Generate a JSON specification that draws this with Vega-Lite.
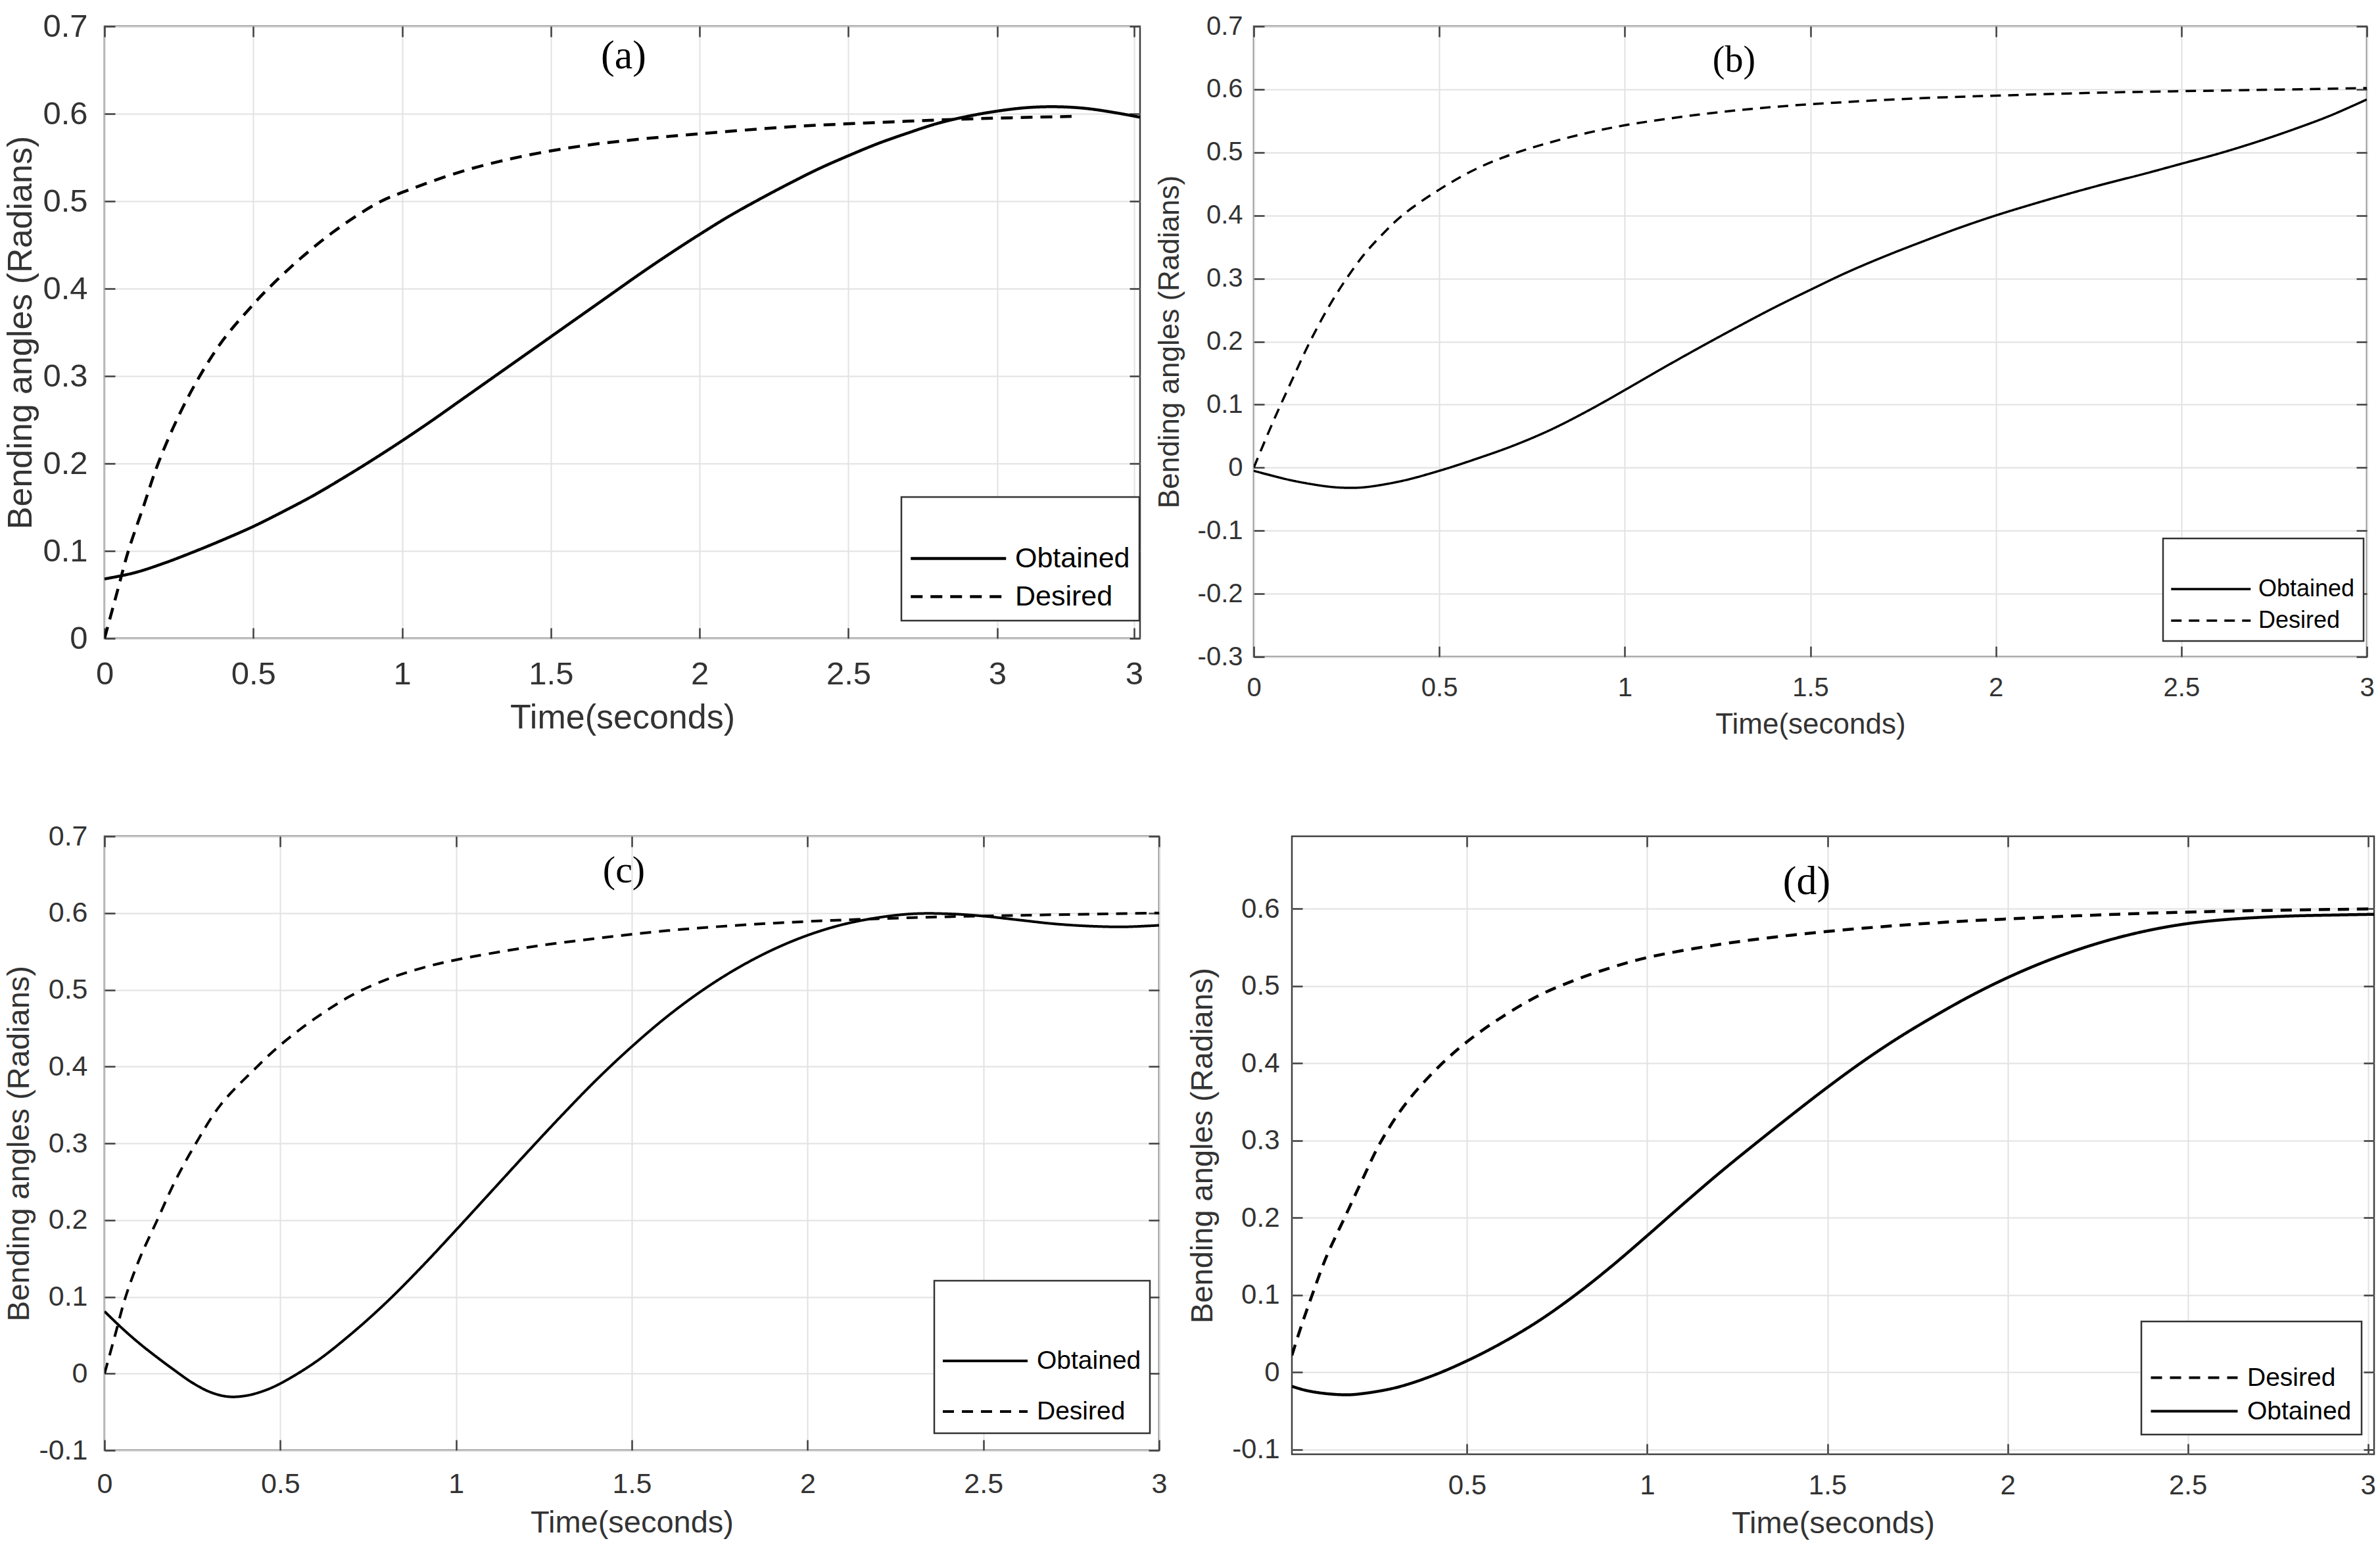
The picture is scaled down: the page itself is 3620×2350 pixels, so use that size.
{
  "$schema": "https://vega.github.io/schema/vega-lite/v6.json",
  "autosize": {"type": "pad"},
  "padding": {"left": 4, "top": 14, "right": 0, "bottom": 0},
  "background": "white",
  "datasets": {
    "a": [
      {"t": 0, "v": 0.068, "s": "Obtained"}, {"t": 0.1, "v": 0.075, "s": "Obtained"}, {"t": 0.2, "v": 0.086, "s": "Obtained"}, {"t": 0.3, "v": 0.099, "s": "Obtained"}, {"t": 0.4, "v": 0.113, "s": "Obtained"}, {"t": 0.5, "v": 0.128, "s": "Obtained"}, {"t": 0.6, "v": 0.145, "s": "Obtained"}, {"t": 0.7, "v": 0.163, "s": "Obtained"}, {"t": 0.8, "v": 0.183, "s": "Obtained"}, {"t": 0.9, "v": 0.204, "s": "Obtained"}, {"t": 1.0, "v": 0.226, "s": "Obtained"}, {"t": 1.1, "v": 0.249, "s": "Obtained"}, {"t": 1.2, "v": 0.273, "s": "Obtained"}, {"t": 1.3, "v": 0.297, "s": "Obtained"}, {"t": 1.4, "v": 0.321, "s": "Obtained"}, {"t": 1.5, "v": 0.345, "s": "Obtained"}, {"t": 1.6, "v": 0.369, "s": "Obtained"}, {"t": 1.7, "v": 0.393, "s": "Obtained"}, {"t": 1.8, "v": 0.417, "s": "Obtained"}, {"t": 1.9, "v": 0.44, "s": "Obtained"}, {"t": 2.0, "v": 0.462, "s": "Obtained"}, {"t": 2.1, "v": 0.483, "s": "Obtained"}, {"t": 2.2, "v": 0.502, "s": "Obtained"}, {"t": 2.3, "v": 0.52, "s": "Obtained"}, {"t": 2.4, "v": 0.537, "s": "Obtained"}, {"t": 2.5, "v": 0.552, "s": "Obtained"}, {"t": 2.6, "v": 0.566, "s": "Obtained"}, {"t": 2.7, "v": 0.578, "s": "Obtained"}, {"t": 2.8, "v": 0.589, "s": "Obtained"}, {"t": 2.9, "v": 0.597, "s": "Obtained"}, {"t": 3.0, "v": 0.603, "s": "Obtained"}, {"t": 3.1, "v": 0.607, "s": "Obtained"}, {"t": 3.2, "v": 0.608, "s": "Obtained"}, {"t": 3.3, "v": 0.606, "s": "Obtained"}, {"t": 3.4, "v": 0.601, "s": "Obtained"}, {"t": 3.48, "v": 0.596, "s": "Obtained"},
      {"t": 0, "v": 0, "s": "Desired"}, {"t": 0.04, "v": 0.05, "s": "Desired"}, {"t": 0.08, "v": 0.1, "s": "Desired"}, {"t": 0.13, "v": 0.15, "s": "Desired"}, {"t": 0.18, "v": 0.2, "s": "Desired"}, {"t": 0.25, "v": 0.255, "s": "Desired"}, {"t": 0.32, "v": 0.3, "s": "Desired"}, {"t": 0.4, "v": 0.342, "s": "Desired"}, {"t": 0.5, "v": 0.382, "s": "Desired"}, {"t": 0.55, "v": 0.4, "s": "Desired"}, {"t": 0.65, "v": 0.432, "s": "Desired"}, {"t": 0.75, "v": 0.46, "s": "Desired"}, {"t": 0.85, "v": 0.484, "s": "Desired"}, {"t": 0.93, "v": 0.5, "s": "Desired"}, {"t": 1.0, "v": 0.51, "s": "Desired"}, {"t": 1.2, "v": 0.534, "s": "Desired"}, {"t": 1.4, "v": 0.551, "s": "Desired"}, {"t": 1.6, "v": 0.563, "s": "Desired"}, {"t": 1.8, "v": 0.571, "s": "Desired"}, {"t": 2.0, "v": 0.577, "s": "Desired"}, {"t": 2.3, "v": 0.585, "s": "Desired"}, {"t": 2.6, "v": 0.59, "s": "Desired"}, {"t": 2.9, "v": 0.594, "s": "Desired"}, {"t": 3.25, "v": 0.597, "s": "Desired"}
    ],
    "b": [
      {"t": 0, "v": -0.005, "s": "Obtained"}, {"t": 0.1, "v": -0.02, "s": "Obtained"}, {"t": 0.2, "v": -0.03, "s": "Obtained"}, {"t": 0.25, "v": -0.032, "s": "Obtained"}, {"t": 0.3, "v": -0.031, "s": "Obtained"}, {"t": 0.4, "v": -0.021, "s": "Obtained"}, {"t": 0.5, "v": -0.005, "s": "Obtained"}, {"t": 0.6, "v": 0.014, "s": "Obtained"}, {"t": 0.7, "v": 0.035, "s": "Obtained"}, {"t": 0.8, "v": 0.06, "s": "Obtained"}, {"t": 0.9, "v": 0.09, "s": "Obtained"}, {"t": 1.0, "v": 0.123, "s": "Obtained"}, {"t": 1.1, "v": 0.157, "s": "Obtained"}, {"t": 1.2, "v": 0.19, "s": "Obtained"}, {"t": 1.3, "v": 0.222, "s": "Obtained"}, {"t": 1.4, "v": 0.253, "s": "Obtained"}, {"t": 1.5, "v": 0.282, "s": "Obtained"}, {"t": 1.6, "v": 0.31, "s": "Obtained"}, {"t": 1.7, "v": 0.335, "s": "Obtained"}, {"t": 1.8, "v": 0.358, "s": "Obtained"}, {"t": 1.9, "v": 0.38, "s": "Obtained"}, {"t": 2.0, "v": 0.4, "s": "Obtained"}, {"t": 2.1, "v": 0.418, "s": "Obtained"}, {"t": 2.2, "v": 0.435, "s": "Obtained"}, {"t": 2.3, "v": 0.451, "s": "Obtained"}, {"t": 2.4, "v": 0.466, "s": "Obtained"}, {"t": 2.5, "v": 0.482, "s": "Obtained"}, {"t": 2.6, "v": 0.498, "s": "Obtained"}, {"t": 2.7, "v": 0.516, "s": "Obtained"}, {"t": 2.8, "v": 0.536, "s": "Obtained"}, {"t": 2.9, "v": 0.558, "s": "Obtained"}, {"t": 3.0, "v": 0.584, "s": "Obtained"},
      {"t": 0, "v": 0, "s": "Desired"}, {"t": 0.05, "v": 0.07, "s": "Desired"}, {"t": 0.1, "v": 0.135, "s": "Desired"}, {"t": 0.15, "v": 0.198, "s": "Desired"}, {"t": 0.2, "v": 0.253, "s": "Desired"}, {"t": 0.25, "v": 0.3, "s": "Desired"}, {"t": 0.3, "v": 0.34, "s": "Desired"}, {"t": 0.35, "v": 0.372, "s": "Desired"}, {"t": 0.4, "v": 0.4, "s": "Desired"}, {"t": 0.5, "v": 0.441, "s": "Desired"}, {"t": 0.6, "v": 0.474, "s": "Desired"}, {"t": 0.7, "v": 0.498, "s": "Desired"}, {"t": 0.8, "v": 0.516, "s": "Desired"}, {"t": 0.9, "v": 0.531, "s": "Desired"}, {"t": 1.0, "v": 0.543, "s": "Desired"}, {"t": 1.2, "v": 0.56, "s": "Desired"}, {"t": 1.4, "v": 0.572, "s": "Desired"}, {"t": 1.6, "v": 0.58, "s": "Desired"}, {"t": 1.8, "v": 0.586, "s": "Desired"}, {"t": 2.0, "v": 0.59, "s": "Desired"}, {"t": 2.3, "v": 0.595, "s": "Desired"}, {"t": 2.6, "v": 0.598, "s": "Desired"}, {"t": 3.0, "v": 0.602, "s": "Desired"}
    ],
    "c": [
      {"t": 0, "v": 0.081, "s": "Obtained"}, {"t": 0.05, "v": 0.059, "s": "Obtained"}, {"t": 0.1, "v": 0.039, "s": "Obtained"}, {"t": 0.15, "v": 0.021, "s": "Obtained"}, {"t": 0.2, "v": 0.004, "s": "Obtained"}, {"t": 0.25, "v": -0.012, "s": "Obtained"}, {"t": 0.3, "v": -0.024, "s": "Obtained"}, {"t": 0.35, "v": -0.03, "s": "Obtained"}, {"t": 0.4, "v": -0.029, "s": "Obtained"}, {"t": 0.45, "v": -0.023, "s": "Obtained"}, {"t": 0.5, "v": -0.013, "s": "Obtained"}, {"t": 0.6, "v": 0.015, "s": "Obtained"}, {"t": 0.7, "v": 0.051, "s": "Obtained"}, {"t": 0.8, "v": 0.092, "s": "Obtained"}, {"t": 0.9, "v": 0.138, "s": "Obtained"}, {"t": 1.0, "v": 0.187, "s": "Obtained"}, {"t": 1.1, "v": 0.237, "s": "Obtained"}, {"t": 1.2, "v": 0.287, "s": "Obtained"}, {"t": 1.3, "v": 0.336, "s": "Obtained"}, {"t": 1.4, "v": 0.383, "s": "Obtained"}, {"t": 1.5, "v": 0.426, "s": "Obtained"}, {"t": 1.6, "v": 0.465, "s": "Obtained"}, {"t": 1.7, "v": 0.499, "s": "Obtained"}, {"t": 1.8, "v": 0.528, "s": "Obtained"}, {"t": 1.9, "v": 0.552, "s": "Obtained"}, {"t": 2.0, "v": 0.571, "s": "Obtained"}, {"t": 2.1, "v": 0.585, "s": "Obtained"}, {"t": 2.2, "v": 0.594, "s": "Obtained"}, {"t": 2.3, "v": 0.599, "s": "Obtained"}, {"t": 2.4, "v": 0.599, "s": "Obtained"}, {"t": 2.5, "v": 0.596, "s": "Obtained"}, {"t": 2.6, "v": 0.591, "s": "Obtained"}, {"t": 2.7, "v": 0.586, "s": "Obtained"}, {"t": 2.8, "v": 0.583, "s": "Obtained"}, {"t": 2.9, "v": 0.582, "s": "Obtained"}, {"t": 3.0, "v": 0.584, "s": "Obtained"},
      {"t": 0, "v": 0, "s": "Desired"}, {"t": 0.03, "v": 0.05, "s": "Desired"}, {"t": 0.06, "v": 0.1, "s": "Desired"}, {"t": 0.1, "v": 0.15, "s": "Desired"}, {"t": 0.15, "v": 0.2, "s": "Desired"}, {"t": 0.2, "v": 0.25, "s": "Desired"}, {"t": 0.26, "v": 0.3, "s": "Desired"}, {"t": 0.33, "v": 0.35, "s": "Desired"}, {"t": 0.43, "v": 0.398, "s": "Desired"}, {"t": 0.5, "v": 0.428, "s": "Desired"}, {"t": 0.6, "v": 0.463, "s": "Desired"}, {"t": 0.7, "v": 0.492, "s": "Desired"}, {"t": 0.8, "v": 0.513, "s": "Desired"}, {"t": 0.9, "v": 0.528, "s": "Desired"}, {"t": 1.0, "v": 0.539, "s": "Desired"}, {"t": 1.2, "v": 0.555, "s": "Desired"}, {"t": 1.4, "v": 0.567, "s": "Desired"}, {"t": 1.6, "v": 0.577, "s": "Desired"}, {"t": 1.8, "v": 0.584, "s": "Desired"}, {"t": 2.0, "v": 0.589, "s": "Desired"}, {"t": 2.3, "v": 0.594, "s": "Desired"}, {"t": 2.6, "v": 0.597, "s": "Desired"}, {"t": 3.0, "v": 0.6, "s": "Desired"}
    ],
    "d": [
      {"t": 0.014, "v": -0.018, "s": "Obtained"}, {"t": 0.05, "v": -0.023, "s": "Obtained"}, {"t": 0.1, "v": -0.027, "s": "Obtained"}, {"t": 0.16, "v": -0.029, "s": "Obtained"}, {"t": 0.2, "v": -0.028, "s": "Obtained"}, {"t": 0.3, "v": -0.02, "s": "Obtained"}, {"t": 0.4, "v": -0.005, "s": "Obtained"}, {"t": 0.5, "v": 0.015, "s": "Obtained"}, {"t": 0.6, "v": 0.039, "s": "Obtained"}, {"t": 0.7, "v": 0.067, "s": "Obtained"}, {"t": 0.8, "v": 0.1, "s": "Obtained"}, {"t": 0.9, "v": 0.137, "s": "Obtained"}, {"t": 1.0, "v": 0.177, "s": "Obtained"}, {"t": 1.1, "v": 0.218, "s": "Obtained"}, {"t": 1.2, "v": 0.258, "s": "Obtained"}, {"t": 1.3, "v": 0.296, "s": "Obtained"}, {"t": 1.4, "v": 0.333, "s": "Obtained"}, {"t": 1.5, "v": 0.369, "s": "Obtained"}, {"t": 1.6, "v": 0.403, "s": "Obtained"}, {"t": 1.7, "v": 0.434, "s": "Obtained"}, {"t": 1.8, "v": 0.462, "s": "Obtained"}, {"t": 1.9, "v": 0.488, "s": "Obtained"}, {"t": 2.0, "v": 0.511, "s": "Obtained"}, {"t": 2.1, "v": 0.531, "s": "Obtained"}, {"t": 2.2, "v": 0.548, "s": "Obtained"}, {"t": 2.3, "v": 0.562, "s": "Obtained"}, {"t": 2.4, "v": 0.573, "s": "Obtained"}, {"t": 2.5, "v": 0.581, "s": "Obtained"}, {"t": 2.6, "v": 0.586, "s": "Obtained"}, {"t": 2.7, "v": 0.589, "s": "Obtained"}, {"t": 2.8, "v": 0.591, "s": "Obtained"}, {"t": 2.9, "v": 0.592, "s": "Obtained"}, {"t": 3.017, "v": 0.593, "s": "Obtained"},
      {"t": 0.014, "v": 0.022, "s": "Desired"}, {"t": 0.04, "v": 0.06, "s": "Desired"}, {"t": 0.07, "v": 0.1, "s": "Desired"}, {"t": 0.11, "v": 0.15, "s": "Desired"}, {"t": 0.16, "v": 0.2, "s": "Desired"}, {"t": 0.21, "v": 0.25, "s": "Desired"}, {"t": 0.26, "v": 0.298, "s": "Desired"}, {"t": 0.33, "v": 0.348, "s": "Desired"}, {"t": 0.42, "v": 0.395, "s": "Desired"}, {"t": 0.5, "v": 0.428, "s": "Desired"}, {"t": 0.6, "v": 0.461, "s": "Desired"}, {"t": 0.7, "v": 0.488, "s": "Desired"}, {"t": 0.8, "v": 0.508, "s": "Desired"}, {"t": 0.9, "v": 0.524, "s": "Desired"}, {"t": 1.0, "v": 0.537, "s": "Desired"}, {"t": 1.2, "v": 0.554, "s": "Desired"}, {"t": 1.4, "v": 0.566, "s": "Desired"}, {"t": 1.6, "v": 0.575, "s": "Desired"}, {"t": 1.8, "v": 0.582, "s": "Desired"}, {"t": 2.0, "v": 0.587, "s": "Desired"}, {"t": 2.3, "v": 0.593, "s": "Desired"}, {"t": 2.6, "v": 0.597, "s": "Desired"}, {"t": 3.017, "v": 0.6, "s": "Desired"}
    ]
  },
  "spacing": 123,
  "resolve": {"scale": {"strokeDash": "independent"}, "legend": {"strokeDash": "independent"}},
  "vconcat": [
    {
      "spacing": 173,
      "bounds": "flush",
      "resolve": {"scale": {"strokeDash": "independent"}, "legend": {"strokeDash": "independent"}},
      "hconcat": [
        {
          "width": 1575, "height": 931,
          "data": {"name": "a"},
          "title": {"text": "(a)", "font": "Liberation Serif", "fontSize": 62, "fontWeight": "normal", "color": "black", "anchor": "middle", "baseline": "alphabetic", "offset": -150, "dx": 2},
          "layer": [
            {
              "mark": {"type": "line", "color": "black", "strokeWidth": 4.5, "clip": true, "interpolate": "catmull-rom"},
              "encoding": {
                "x": {"field": "t", "type": "quantitative", "scale": {"domain": [0, 3.48], "nice": false, "zero": false},
                  "axis": {"orient": "bottom", "values": [0, 0.5, 1, 1.5, 2, 2.5, 3, 3.46], "labelExpr": "datum.value > 3.2 ? '3' : '' + datum.value", "title": "Time(seconds)", "labelFontSize": 49, "titleFontSize": 52, "labelPadding": 46, "titlePadding": 16}},
                "y": {"field": "v", "type": "quantitative", "scale": {"domain": [0, 0.7], "nice": false, "zero": false},
                  "axis": {"orient": "left", "values": [0, 0.1, 0.2, 0.3, 0.4, 0.5, 0.6, 0.7], "labelExpr": "'' + datum.value", "title": "Bending angles (Radians)", "labelFontSize": 49, "titleFontSize": 52, "labelPadding": 42, "titlePadding": 6}},
                "strokeDash": {"field": "s", "type": "nominal", "scale": {"domain": ["Obtained", "Desired"], "range": [[1, 0], [18, 12]]},
                  "legend": {"orient": "none", "legendX": 1212, "legendY": 716, "title": " ", "titleFontSize": 20, "titlePadding": 38, "padding": 14, "strokeColor": "#333333", "fillColor": "white", "symbolType": "M-1.118,0H6.513", "symbolSize": 1444, "symbolStrokeWidth": 4.5, "symbolStrokeColor": "black", "symbolFillColor": "transparent", "labelFont": "Liberation Sans", "labelFontSize": 43, "labelColor": "black", "labelOffset": 116, "labelLimit": 500, "rowPadding": 14}}
              }
            },
            {
              "mark": {"type": "point", "opacity": 0},
              "encoding": {
                "x": {"field": "t", "type": "quantitative", "scale": {"domain": [0, 3.48], "nice": false, "zero": false},
                  "axis": {"orient": "top", "values": [0, 0.5, 1, 1.5, 2, 2.5, 3, 3.46], "labels": false, "title": null, "grid": false}},
                "y": {"field": "v", "type": "quantitative", "scale": {"domain": [0, 0.7], "nice": false, "zero": false},
                  "axis": {"orient": "right", "values": [0, 0.1, 0.2, 0.3, 0.4, 0.5, 0.6, 0.7], "labels": false, "title": null, "grid": false}}
              }
            }
          ],
          "resolve": {"axis": {"x": "independent", "y": "independent"}}
        },
        {
          "width": 1693, "height": 959,
          "data": {"name": "b"},
          "title": {"text": "(b)", "font": "Liberation Serif", "fontSize": 56, "fontWeight": "normal", "color": "black", "anchor": "middle", "baseline": "alphabetic", "offset": -145, "dx": -116},
          "layer": [
            {
              "mark": {"type": "line", "color": "black", "strokeWidth": 3.5, "clip": true, "interpolate": "catmull-rom"},
              "encoding": {
                "x": {"field": "t", "type": "quantitative", "scale": {"domain": [0, 3], "nice": false, "zero": false},
                  "axis": {"orient": "bottom", "values": [0, 0.5, 1, 1.5, 2, 2.5, 3], "labelExpr": "'' + datum.value", "title": "Time(seconds)", "labelFontSize": 40, "titleFontSize": 44, "labelPadding": 43, "titlePadding": 14}},
                "y": {"field": "v", "type": "quantitative", "scale": {"domain": [-0.3, 0.7], "nice": false, "zero": false},
                  "axis": {"orient": "left", "values": [-0.3, -0.2, -0.1, 0, 0.1, 0.2, 0.3, 0.4, 0.5, 0.6, 0.7], "labelExpr": "'' + datum.value", "title": "Bending angles (Radians)", "labelFontSize": 40, "titleFontSize": 44, "labelPadding": 33, "titlePadding": 20}},
                "strokeDash": {"field": "s", "type": "nominal", "scale": {"domain": ["Obtained", "Desired"], "range": [[1, 0], [16, 11]]},
                  "legend": {"orient": "none", "legendX": 1383, "legendY": 779, "title": " ", "titleFontSize": 20, "titlePadding": 26, "padding": 13, "strokeColor": "#333333", "fillColor": "white", "symbolType": "M-1.25,0H6.817", "symbolSize": 900, "symbolStrokeWidth": 3.5, "symbolStrokeColor": "black", "symbolFillColor": "transparent", "labelFont": "Liberation Sans", "labelFontSize": 36, "labelColor": "black", "labelOffset": 96, "labelLimit": 500, "rowPadding": 12}}
              }
            },
            {
              "mark": {"type": "point", "opacity": 0},
              "encoding": {
                "x": {"field": "t", "type": "quantitative", "scale": {"domain": [0, 3], "nice": false, "zero": false},
                  "axis": {"orient": "top", "values": [0, 0.5, 1, 1.5, 2, 2.5, 3], "labels": false, "title": null, "grid": false}},
                "y": {"field": "v", "type": "quantitative", "scale": {"domain": [-0.3, 0.7], "nice": false, "zero": false},
                  "axis": {"orient": "right", "values": [-0.3, -0.2, -0.1, 0, 0.1, 0.2, 0.3, 0.4, 0.5, 0.6, 0.7], "labels": false, "title": null, "grid": false}}
              }
            }
          ],
          "resolve": {"axis": {"x": "independent", "y": "independent"}}
        }
      ]
    },
    {
      "spacing": 202,
      "bounds": "flush",
      "resolve": {"scale": {"strokeDash": "independent"}, "legend": {"strokeDash": "independent"}},
      "hconcat": [
        {
          "width": 1604, "height": 934,
          "data": {"name": "c"},
          "title": {"text": "(c)", "font": "Liberation Serif", "fontSize": 58, "fontWeight": "normal", "color": "black", "anchor": "middle", "baseline": "alphabetic", "offset": -149, "dx": -12},
          "layer": [
            {
              "mark": {"type": "line", "color": "black", "strokeWidth": 4, "clip": true, "interpolate": "catmull-rom"},
              "encoding": {
                "x": {"field": "t", "type": "quantitative", "scale": {"domain": [0, 3], "nice": false, "zero": false},
                  "axis": {"orient": "bottom", "values": [0, 0.5, 1, 1.5, 2, 2.5, 3], "labelExpr": "'' + datum.value", "title": "Time(seconds)", "labelFontSize": 43, "titleFontSize": 47, "labelPadding": 46, "titlePadding": 14}},
                "y": {"field": "v", "type": "quantitative", "scale": {"domain": [-0.1, 0.7], "nice": false, "zero": false},
                  "axis": {"orient": "left", "values": [-0.1, 0, 0.1, 0.2, 0.3, 0.4, 0.5, 0.6, 0.7], "labelExpr": "'' + datum.value", "title": "Bending angles (Radians)", "labelFontSize": 43, "titleFontSize": 47, "labelPadding": 42, "titlePadding": 5}},
                "strokeDash": {"field": "s", "type": "nominal", "scale": {"domain": ["Obtained", "Desired"], "range": [[1, 0], [17, 12]]},
                  "legend": {"orient": "none", "legendX": 1262, "legendY": 676, "title": " ", "titleFontSize": 20, "titlePadding": 55, "padding": 13, "strokeColor": "#333333", "fillColor": "white", "symbolType": "M-1.0625,0H2.969", "symbolSize": 4096, "symbolStrokeWidth": 4, "symbolStrokeColor": "black", "symbolFillColor": "transparent", "labelFont": "Liberation Sans", "labelFontSize": 39, "labelColor": "black", "labelOffset": 75, "labelLimit": 500, "rowPadding": 23}}
              }
            },
            {
              "mark": {"type": "point", "opacity": 0},
              "encoding": {
                "x": {"field": "t", "type": "quantitative", "scale": {"domain": [0, 3], "nice": false, "zero": false},
                  "axis": {"orient": "top", "values": [0, 0.5, 1, 1.5, 2, 2.5, 3], "labels": false, "title": null, "grid": false}},
                "y": {"field": "v", "type": "quantitative", "scale": {"domain": [-0.1, 0.7], "nice": false, "zero": false},
                  "axis": {"orient": "right", "values": [-0.1, 0, 0.1, 0.2, 0.3, 0.4, 0.5, 0.6, 0.7], "labels": false, "title": null, "grid": false}}
              }
            }
          ],
          "resolve": {"axis": {"x": "independent", "y": "independent"}}
        },
        {
          "width": 1646, "height": 940,
          "data": {"name": "d"},
          "title": {"text": "(d)", "font": "Liberation Serif", "fontSize": 62, "fontWeight": "normal", "color": "black", "anchor": "middle", "baseline": "alphabetic", "offset": -151, "dx": -40},
          "layer": [
            {
              "mark": {"type": "line", "color": "black", "strokeWidth": 4.5, "clip": true, "interpolate": "catmull-rom"},
              "encoding": {
                "x": {"field": "t", "type": "quantitative", "scale": {"domain": [0.014, 3.017], "nice": false, "zero": false},
                  "axis": {"orient": "bottom", "values": [0.5, 1, 1.5, 2, 2.5, 3], "labelExpr": "'' + datum.value", "title": "Time(seconds)", "labelFontSize": 42, "titleFontSize": 47, "labelPadding": 43, "titlePadding": 14}},
                "y": {"field": "v", "type": "quantitative", "scale": {"domain": [-0.106, 0.694], "nice": false, "zero": false},
                  "axis": {"orient": "left", "values": [-0.1, 0, 0.1, 0.2, 0.3, 0.4, 0.5, 0.6], "labelExpr": "'' + datum.value", "title": "Bending angles (Radians)", "labelFontSize": 42, "titleFontSize": 47, "labelPadding": 35, "titlePadding": 20}},
                "strokeDash": {"field": "s", "type": "nominal", "scale": {"domain": ["Desired", "Obtained"], "range": [[17, 12], [1, 0]]},
                  "legend": {"orient": "none", "legendX": 1292, "legendY": 738, "title": " ", "titleFontSize": 20, "titlePadding": 31, "padding": 15, "strokeColor": "#333333", "fillColor": "white", "symbolType": "M-1.25,0H7", "symbolSize": 1024, "symbolStrokeWidth": 4, "symbolStrokeColor": "black", "symbolFillColor": "transparent", "labelFont": "Liberation Sans", "labelFontSize": 39, "labelColor": "black", "labelOffset": 107, "labelLimit": 500, "rowPadding": 11}}
              }
            },
            {
              "mark": {"type": "point", "opacity": 0},
              "encoding": {
                "x": {"field": "t", "type": "quantitative", "scale": {"domain": [0.014, 3.017], "nice": false, "zero": false},
                  "axis": {"orient": "top", "values": [0.5, 1, 1.5, 2, 2.5, 3], "labels": false, "title": null, "grid": false}},
                "y": {"field": "v", "type": "quantitative", "scale": {"domain": [-0.106, 0.694], "nice": false, "zero": false},
                  "axis": {"orient": "right", "values": [-0.1, 0, 0.1, 0.2, 0.3, 0.4, 0.5, 0.6], "labels": false, "title": null, "grid": false}}
              }
            }
          ],
          "resolve": {"axis": {"x": "independent", "y": "independent"}}
        }
      ]
    }
  ],
  "config": {
    "font": "Liberation Sans",
    "view": {"stroke": "#404040", "strokeWidth": 2.5},
    "legend": {"strokeWidth": 2.5},
    "axis": {
      "domain": false,
      "grid": true,
      "gridColor": "#e2e2e2",
      "gridWidth": 2,
      "ticks": true,
      "tickSize": -16,
      "tickWidth": 2.5,
      "tickColor": "#404040",
      "labelFont": "Liberation Sans",
      "labelColor": "#333333",
      "titleFont": "Liberation Sans",
      "titleColor": "#333333",
      "titleFontWeight": "normal",
      "labelOverlap": false,
      "labelFlush": false
    }
  }
}
